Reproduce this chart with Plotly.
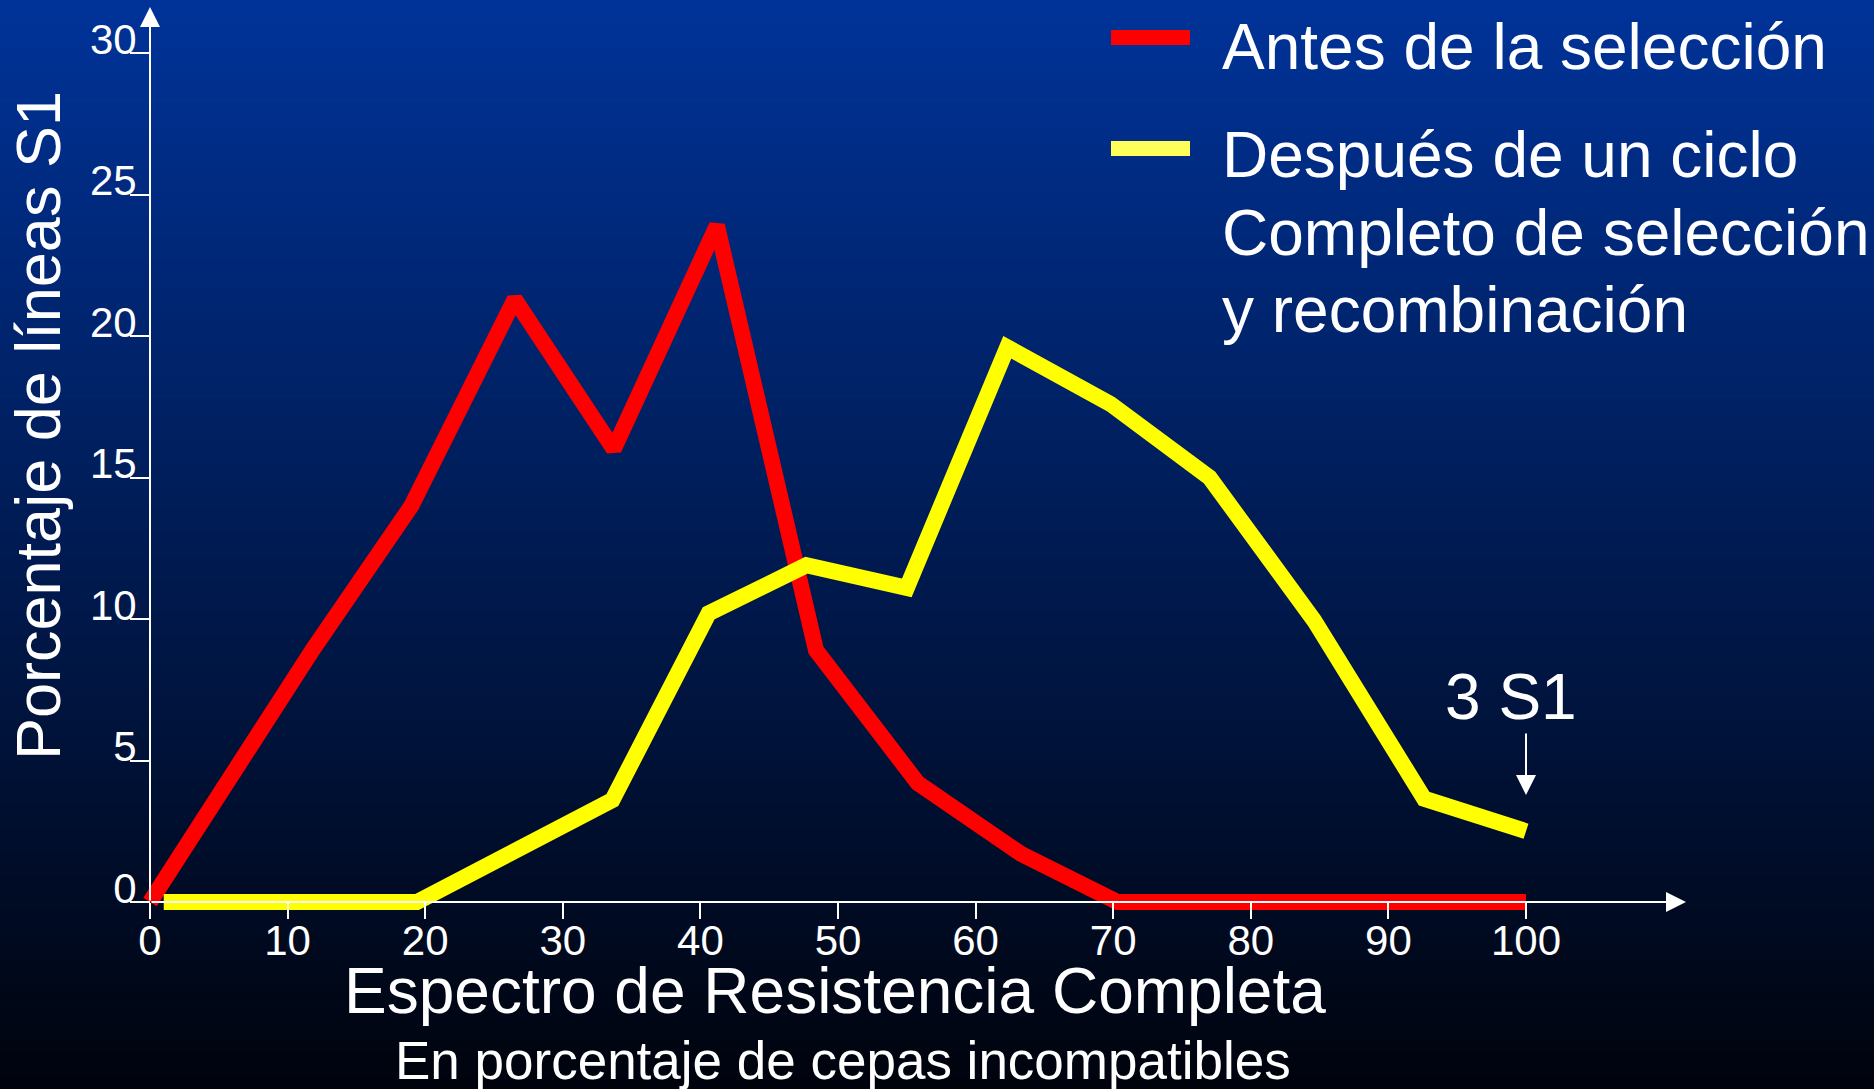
import plotly.graph_objects as go

# ---------------- data ----------------
red_x = [0, 11.8, 19.0, 26.5, 33.7, 41.2, 48.4, 55.8, 63.3, 70.3, 100]
red_y = [0, 8.9, 14.0, 21.3, 16.0, 23.9, 8.9, 4.2, 1.7, 0, 0]
yel_x = [1, 19.4, 33.6, 40.6, 47.7, 55.0, 62.3, 69.8, 77.0, 84.6, 92.6, 100]
yel_y = [0, 0, 3.6, 10.2, 11.9, 11.1, 19.6, 17.6, 15.0, 9.95, 3.65, 2.5]
x_ticks = [0, 10, 20, 30, 40, 50, 60, 70, 80, 90, 100]
y_ticks = [0, 5, 10, 15, 20, 25, 30]
red_name = "Antes de la selección"
yel_lines = ["Después de un ciclo", "Completo de selección", "y recombinación"]
x_title = "Espectro de Resistencia Completa"
x_subtitle = "En porcentaje de cepas incompatibles"
y_title = "Porcentaje de líneas S1"
note_text = "3 S1"
note_x = 100

# ---------------- geometry (pixels) ----------------
FW, FH = 1874, 1089
L, R, T, B = 110, 1720, 0, 940
W, H = R - L, B - T
X0PX, XSCALE = 150, 13.76   # px of x=0, px per unit
Y0PX, YSCALE = 902, 28.3    # px of y=0, px per unit


def xv(px):
    return (px - X0PX) / XSCALE


def yv(py):
    return (Y0PX - py) / YSCALE


def px_x(px):
    return (px - L) / W


def px_y(py):
    return (B - py) / H


FONT = "Liberation Sans, Arial, sans-serif"
WHITE = "#FFFFFF"

fig = go.Figure()
fig.add_trace(go.Scatter(x=red_x, y=red_y, mode="lines", name=red_name,
                         line=dict(color="#FF0000", width=16), showlegend=False))
fig.add_trace(go.Scatter(x=yel_x, y=yel_y, mode="lines", name=yel_lines[0],
                         line=dict(color="#FFFF00", width=16), showlegend=False))

# background gradient bands
shapes = []
N = 180
top = (0, 51, 153)
bot = (0, 3, 12)
for i in range(N):
    p0 = FH * i / N
    p1 = FH * (i + 1) / N + 0.8
    t = (i + 0.5) / N
    c = tuple(round(top[k] + (bot[k] - top[k]) * t) for k in range(3))
    shapes.append(dict(type="rect", xref="paper", yref="paper", layer="below",
                       x0=px_x(0), x1=px_x(FW), y0=px_y(p1), y1=px_y(p0),
                       line=dict(width=0), fillcolor="rgb(%d,%d,%d)" % c))
# legend swatches
shapes.append(dict(type="rect", xref="paper", yref="paper", layer="above",
                   x0=px_x(1111), x1=px_x(1190), y0=px_y(45), y1=px_y(30),
                   line=dict(width=0), fillcolor="#FF0000"))
shapes.append(dict(type="rect", xref="paper", yref="paper", layer="above",
                   x0=px_x(1111), x1=px_x(1190), y0=px_y(156), y1=px_y(141),
                   line=dict(width=0), fillcolor="#FFFF5A"))

ann = []
# axis arrows
ann.append(dict(x=xv(1686), y=0, ax=0, ay=0, xref="x", yref="y", axref="x", ayref="y",
                text="", showarrow=True, arrowhead=2, arrowsize=2, arrowwidth=2,
                arrowcolor=WHITE, standoff=0))
ann.append(dict(x=0, y=yv(7), ax=0, ay=0, xref="x", yref="y", axref="x", ayref="y",
                text="", showarrow=True, arrowhead=2, arrowsize=2, arrowwidth=2,
                arrowcolor=WHITE, standoff=0))
# 3 S1 note
ann.append(dict(x=note_x, y=yv(795), ax=0, ay=-63, xref="x", yref="y",
                text="", showarrow=True, arrowhead=2, arrowsize=2, arrowwidth=2,
                arrowcolor=WHITE, standoff=0))
ann.append(dict(x=px_x(1511), y=px_y(697), xref="paper", yref="paper",
                text=note_text, showarrow=False, xanchor="center", yanchor="middle",
                font=dict(family=FONT, size=64, color=WHITE)))
# legend text
ann.append(dict(x=px_x(1220), y=px_y(47), xref="paper", yref="paper",
                text=red_name, showarrow=False, xanchor="left", yanchor="middle",
                font=dict(family=FONT, size=64, color=WHITE)))
for txt, mid in zip(yel_lines, [155, 233, 310]):
    ann.append(dict(x=px_x(1220), y=px_y(mid), xref="paper", yref="paper",
                    text=txt, showarrow=False, xanchor="left", yanchor="middle",
                    font=dict(family=FONT, size=64, color=WHITE)))
# axis titles
ann.append(dict(x=px_x(835), y=px_y(991), xref="paper", yref="paper",
                text=x_title, showarrow=False, xanchor="center", yanchor="middle",
                font=dict(family=FONT, size=64, color=WHITE)))
ann.append(dict(x=px_x(843), y=px_y(1060), xref="paper", yref="paper",
                text=x_subtitle, showarrow=False, xanchor="center", yanchor="middle",
                font=dict(family=FONT, size=53, color=WHITE)))
ann.append(dict(x=px_x(38), y=px_y(426), xref="paper", yref="paper",
                text=y_title, showarrow=False, xanchor="center", yanchor="middle",
                textangle=-90, font=dict(family=FONT, size=63, color=WHITE)))

fig.update_layout(
    width=FW, height=FH,
    margin=dict(l=L, r=FW - R, t=T, b=FH - B, pad=0),
    paper_bgcolor="#000000", plot_bgcolor="rgba(0,0,0,0)",
    showlegend=False,
    shapes=shapes, annotations=ann,
    xaxis=dict(range=[xv(L), xv(R)], domain=[0, 1], anchor="free",
               position=px_y(Y0PX), showgrid=False, zeroline=False, showline=False,
               tickmode="array", tickvals=x_ticks, ticktext=[str(v) for v in x_ticks],
               ticks="outside", ticklen=16, tickwidth=1.5, tickcolor=WHITE,
               ticklabelstandoff=-14,
               tickfont=dict(family=FONT, size=42, color=WHITE)),
    yaxis=dict(range=[yv(B), yv(T)], domain=[0, 1], anchor="free",
               position=px_x(X0PX), showgrid=False, zeroline=False, showline=False,
               tickmode="array", tickvals=y_ticks, ticktext=[str(v) for v in y_ticks],
               ticks="outside", ticklen=20, tickwidth=1.5, tickcolor=WHITE,
               ticklabelstandoff=-15, ticklabelshift=-14,
               tickfont=dict(family=FONT, size=42, color=WHITE)),
)

fig.write_html("out.html")
